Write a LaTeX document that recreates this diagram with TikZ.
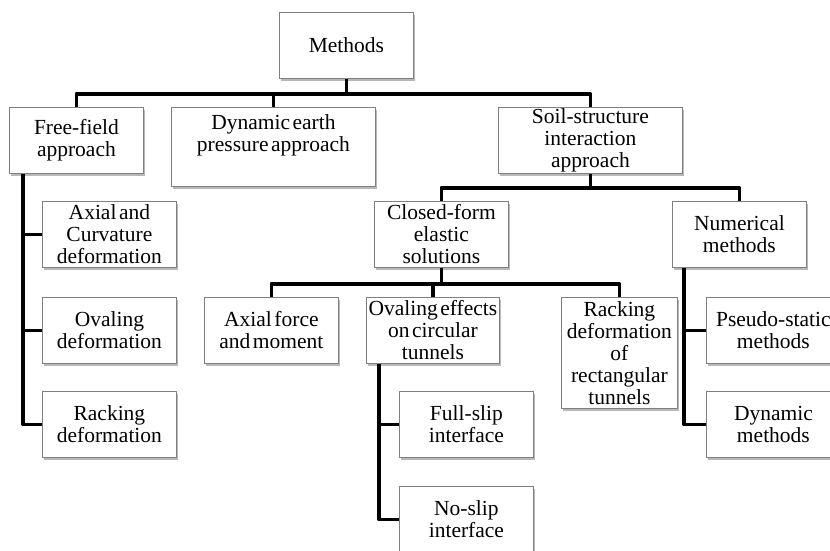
\documentclass[tikz,border=0pt]{standalone}
\usepackage{fontspec}
\setmainfont{Liberation Serif}
\usepackage{tikz}
\usetikzlibrary{shadows}
\newcommand{\boxfont}{\fontsize{21.5}{22}\selectfont\spaceskip=2.5pt plus 1pt minus 1pt\relax}

\begin{document}
\begin{tikzpicture}[x=1pt, y=-1pt,
			box/.style={draw=black!50, line width=0.8pt, fill=white, anchor=north west,
				align=center, minimum width=#1, minimum height=66pt, inner xsep=1pt, inner ysep=0pt,
				font=\boxfont,
				drop shadow={shadow xshift=2pt, shadow yshift=-2.5pt, fill=black!28, opacity=1}},
			box/.default=134pt,
			conn/.style={line width=3.5pt, line join=round}]
			% Bildbereich
			\useasboundingbox (0,0) rectangle (830,551);
			\fill[white] (0,0) rectangle (830,551);
			\clip (0,0) rectangle (830,551);
			% Ebene 1 und 2
			\node[box] (meth) at (279,12) {Methods};
			\node[box] (ff) at (9,107) {Free-field\\approach};
			\node[box=204pt, minimum height=79pt] (dyn) at (171,107) {Dynamic earth\\pressure approach\\\strut};
			\node[box=184pt] (ssi) at (498,107) {Soil-structure\\interaction\\approach};
			% Free-field Zweig
			\node[box] (ac) at (42,201) {Axial and\\Curvature\\deformation};
			\node[box] (ovd) at (42,297) {Ovaling\\deformation};
			\node[box] (rd) at (42,391) {Racking\\deformation};
			% Soil-structure Zweig
			\node[box] (cf) at (374,201) {Closed-form\\elastic\\solutions};
			\node[box] (num) at (672,201) {Numerical\\methods};
			\node[box] (afm) at (204,297) {Axial force\\and moment};
			\node[box=133pt] (oe) at (366,297) {Ovaling effects\\on circular\\tunnels};
			\node[box=116pt, minimum height=111pt] (rr) at (561,297) {Racking\\deformation\\of\\rectangular\\tunnels};
			\node[box] (ps) at (706,297) {Pseudo-static\\methods};
			\node[box] (dm) at (706,391) {Dynamic\\methods};
			\node[box] (fs) at (399,391) {Full-slip\\interface};
			\node[box] (ns) at (399,486) {No-slip\\interface};
			% Verbindungen
			\coordinate (bar1) at ([yshift=-15pt]meth.south);
			\coordinate (bar2) at ([yshift=-14pt]ssi.south);
			\coordinate (bar3) at ([yshift=-16pt]cf.south);
			\draw[conn] (meth.south) -- (bar1);
			\draw[conn] (ff.north) |- (bar1) -| (ssi.north);
			\draw[conn] (dyn.north) -- (dyn.north |- bar1);
			\draw[conn] (ssi.south) -- (bar2);
			\draw[conn] (cf.north) |- (bar2) -| (num.north);
			\draw[conn] (cf.south) -- (bar3);
			\draw[conn] (afm.north) |- (bar3) -| (rr.north);
			\draw[conn] (oe.north) -- (oe.north |- bar3);
			% Seitliche Stränge
			\coordinate (fftrunk) at ([xshift=14pt]ff.south west);
			\coordinate (oetrunk) at ([xshift=13pt]oe.south west);
			\coordinate (numtrunk) at ([xshift=12pt]num.south west);
			\draw[conn] (fftrunk) |- (rd.west);
			\foreach \n in {ac,ovd} \draw[conn] (\n.west) -- (\n.west -| fftrunk);
			\draw[conn] (oetrunk) |- (ns.west);
			\draw[conn] (fs.west) -- (fs.west -| oetrunk);
			\draw[conn] (numtrunk) |- (dm.west);
			\draw[conn] (ps.west) -- (ps.west -| numtrunk);
		\end{tikzpicture}
\end{document}
